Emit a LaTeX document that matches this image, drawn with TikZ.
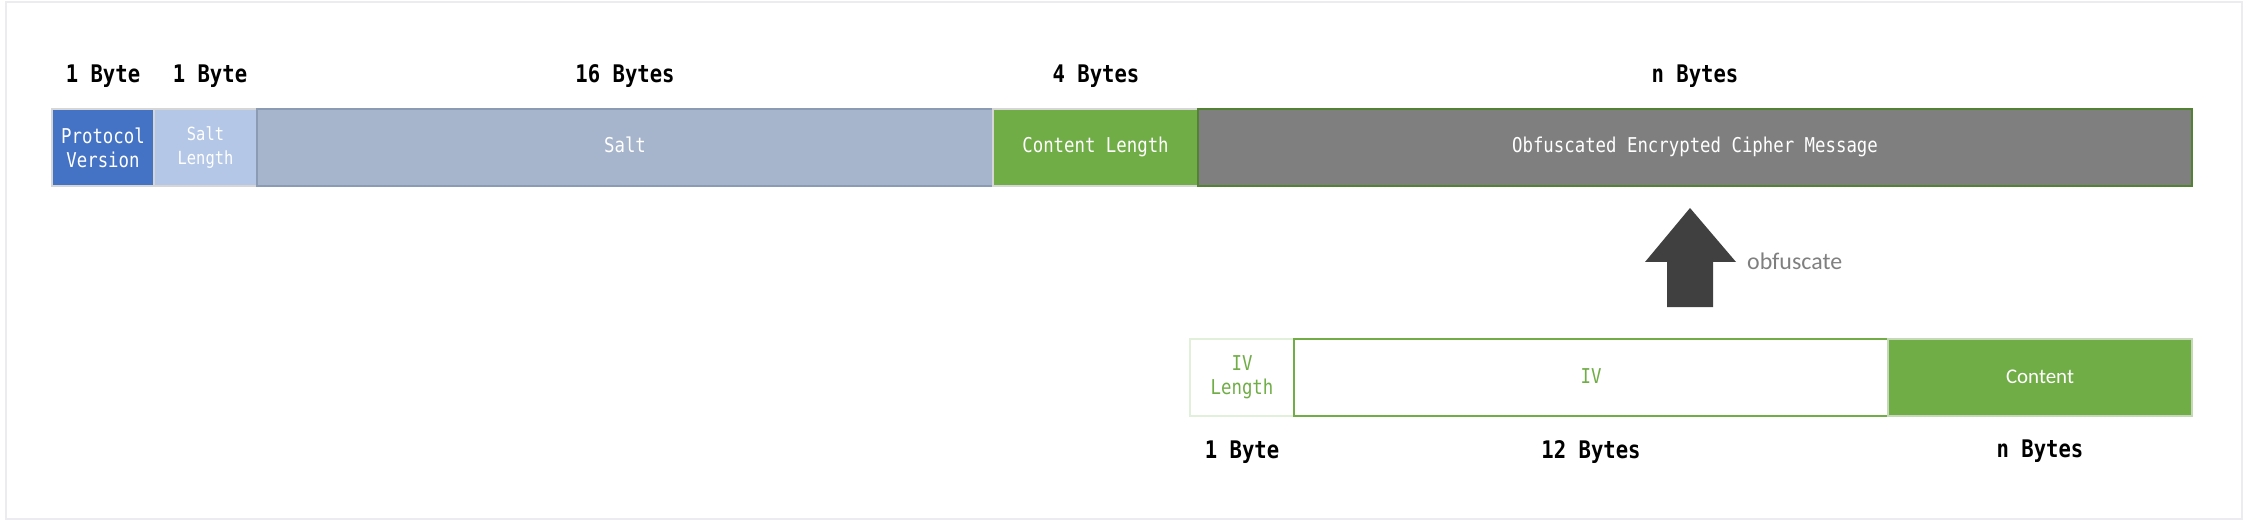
\documentclass[tikz,border=0pt]{standalone}
\usepackage{fontspec}
\newfontfamily\monofont[FakeStretch=0.85]{DejaVu Sans Mono}
\newfontfamily\calfont{Carlito}
\definecolor{pvblue}{HTML}{4472C4}
\definecolor{slblue}{HTML}{B4C7E7}
\definecolor{saltfill}{HTML}{A6B5CC}
\definecolor{saltline}{HTML}{8C9BB4}
\definecolor{ogreen}{HTML}{70AD47}
\definecolor{obgray}{HTML}{7F7F7F}
\definecolor{obline}{HTML}{548235}
\definecolor{lightline}{HTML}{D6D6D6}
\definecolor{ivlline}{HTML}{E2EFDA}
\definecolor{ctline}{HTML}{C5D9B8}
\definecolor{framec}{HTML}{ECECF0}
\definecolor{arrowc}{HTML}{404040}
\definecolor{notec}{HTML}{7F7F7F}
\tikzset{
  cell/.style={draw, line width=1.5bp, minimum height=77bp, inner sep=0pt, outer sep=0pt,
    text=white, align=center, font=\monofont\fontsize{20.5}{24}\selectfont},
  oneline/.style={text height=15bp, text depth=4bp},
  sizelabel/.style={anchor=base, inner sep=0pt, font=\monofont\bfseries\fontsize{24.3}{28}\selectfont},
}
\begin{document}
\begin{tikzpicture}[x=1bp,y=-1bp]
\useasboundingbox (0,0) rectangle (2249,521);
\draw[framec, line width=2bp] (6,2) rectangle (2242,519);

% top row
\node[cell, fill=pvblue, draw=lightline, minimum width=102bp] (pv) at (103,147.5) {Protocol\\Version};
\node[cell, fill=slblue, draw=lightline, minimum width=103bp, font=\monofont\fontsize{18.2}{24}\selectfont] (sl) at (205.5,147.5) {Salt\\Length};
\node[cell, oneline, fill=saltfill, draw=saltline, minimum width=736bp] (salt) at (625,147.5) {Salt};
\node[cell, oneline, fill=ogreen, draw=lightline, minimum width=205bp] (cl) at (1095.5,147.5) {Content Length};
\node[cell, oneline, fill=obgray, draw=obline, minimum width=994bp] (ob) at (1695,147.5) {Obfuscated Encrypted Cipher Message};

\node[sizelabel] (pvs) at (103,83) {1 Byte};
\node[sizelabel] (sls) at (210,83) {1 Byte};
\node[sizelabel] (salts) at (625,83) {16 Bytes};
\node[sizelabel] (cls) at (1096,83) {4 Bytes};
\node[sizelabel] (obs) at (1695,83) {n Bytes};

% arrow
\fill[arrowc] (1690,208) -- (1736,262) -- (1713,262) -- (1713,307) -- (1667,307) -- (1667,262) -- (1645,262) -- cycle;
\node[anchor=base west, inner sep=0pt, text=notec, font=\calfont\fontsize{24}{28}\selectfont] (note) at (1747,270) {obfuscate};

% bottom row
\node[cell, fill=white, draw=ivlline, text=ogreen, minimum width=104bp] (ivl) at (1242,377.5) {IV\\Length};
\node[cell, oneline, fill=white, draw=ogreen, text=ogreen, minimum width=594bp] (iv) at (1591,377.5) {IV};
\node[cell, oneline, fill=ogreen, draw=ctline, minimum width=304bp, font=\calfont\fontsize{21}{24}\selectfont] (ct) at (2040,377.5) {Content};

\node[sizelabel] (ivls) at (1242,458) {1 Byte};
\node[sizelabel] (ivs) at (1591,458) {12 Bytes};
\node[sizelabel] (cts) at (2040,457) {n Bytes};
\end{tikzpicture}
\end{document}
